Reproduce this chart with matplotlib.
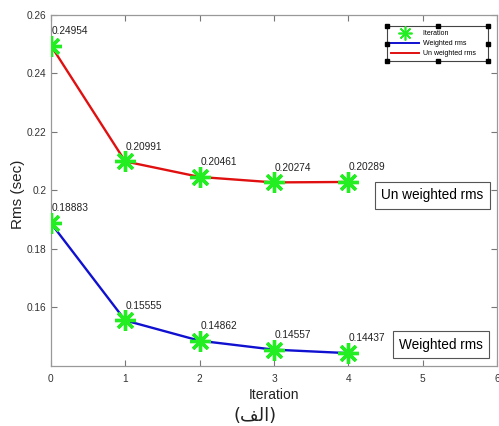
import matplotlib
matplotlib.use("Agg")
import matplotlib.pyplot as plt
import matplotlib.transforms as mtrans
from matplotlib.lines import Line2D

iterations = [0, 1, 2, 3, 4]
unweighted = [0.24954, 0.20991, 0.20461, 0.20274, 0.20289]
weighted = [0.18883, 0.15555, 0.14862, 0.14557, 0.14437]
xticks = [0, 1, 2, 3, 4, 5, 6]
yticks = [0.16, 0.18, 0.20, 0.22, 0.24, 0.26]
ytick_labels = ["0.16", "0.18", "0.2", "0.22", "0.24", "0.26"]

plt.rcParams['font.family'] = ['Liberation Sans', 'DejaVu Sans']

fig = plt.figure(figsize=(4.99, 4.26), dpi=100)
ax = fig.add_axes([0.102, 0.141, 0.894, 0.824])

star = (8, 2, 0)
green = '#22ee22'
ax.plot(iterations, unweighted, color='#e01010', lw=1.7, zorder=2)
ax.plot(iterations, weighted, color='#1010d0', lw=1.7, zorder=2)
ax.plot(iterations, unweighted, ls='none', marker=star, ms=15, mew=2.4, mec=green, zorder=3)
ax.plot(iterations, weighted, ls='none', marker=star, ms=15, mew=2.4, mec=green, zorder=3)

for x, y in zip(iterations, unweighted):
    ax.annotate(f"{y:.5f}", (x, y), xytext=(0.5, 7), textcoords='offset points',
                ha='left', va='bottom', fontsize=7.3, color='#222222')
for x, y in zip(iterations, weighted):
    ax.annotate(f"{y:.5f}", (x, y), xytext=(0.5, 7), textcoords='offset points',
                ha='left', va='bottom', fontsize=7.3, color='#222222')

ax.set_xlim(0, 6)
ax.set_ylim(0.14, 0.26)
ax.set_xticks(xticks)
ax.set_yticks(yticks)
ax.set_yticklabels(ytick_labels)
ax.tick_params(direction='in', length=4, width=0.8, color='#777777', labelsize=7.3,
               labelcolor='#333333', top=True, right=True)
ax.tick_params(axis='y', pad=3)
ax.tick_params(axis='x', pad=6)
for s in ax.spines.values():
    s.set_color('#999999')
    s.set_linewidth(0.9)

ax.set_xlabel("Iteration", fontsize=10, labelpad=3, color='#222222')
ax.set_ylabel("Rms (sec)", fontsize=11, color='#222222')
ax.yaxis.set_label_coords(-0.058, 0.49)

box = dict(boxstyle='square,pad=0.45', fc='white', ec='#555555', lw=0.8)
trans = mtrans.blended_transform_factory(ax.transAxes, ax.transData)
ax.text(0.855, 0.1983, "Un weighted rms", fontsize=9.8, ha='center', va='center',
        transform=trans, bbox=box)
ax.text(0.874, 0.1473, "Weighted rms", fontsize=9.8, ha='center', va='center',
        transform=trans, bbox=box)

handles = [Line2D([], [], ls='none', marker=star, ms=10, mew=1.2, mec=green),
           Line2D([], [], color='#1010d0', lw=1.4),
           Line2D([], [], color='#e01010', lw=1.4)]
leg = ax.legend(handles, ["Iteration    ", "Weighted rms    ", "Un weighted rms    "],
                loc='upper right', bbox_to_anchor=(0.980, 0.968), fontsize=5,
                frameon=True, fancybox=False, edgecolor='#444444', framealpha=1,
                handlelength=4.0, borderpad=0.55, labelspacing=0.45, handletextpad=0.6,
                borderaxespad=0)
leg.get_frame().set_linewidth(0.8)

fig.canvas.draw()
bb = leg.get_window_extent().transformed(fig.transFigure.inverted())
xs = [bb.x0, (bb.x0 + bb.x1) / 2, bb.x1]
ys = [bb.y0, (bb.y0 + bb.y1) / 2, bb.y1]
hx, hy = [], []
for xx in xs:
    for yy in ys:
        if xx == xs[1] and yy == ys[1]:
            continue
        hx.append(xx)
        hy.append(yy)
fig.add_artist(Line2D(hx, hy, ls='none', marker='s', ms=3, color='black',
                      transform=fig.transFigure))

fig.text(0.512, 0.023, "(\uFED2\uFEDF\uFE8D)", fontsize=13, ha='center', va='center',
         family=['DejaVu Sans'], color='#222222')

fig.savefig("out.png", dpi=100)
